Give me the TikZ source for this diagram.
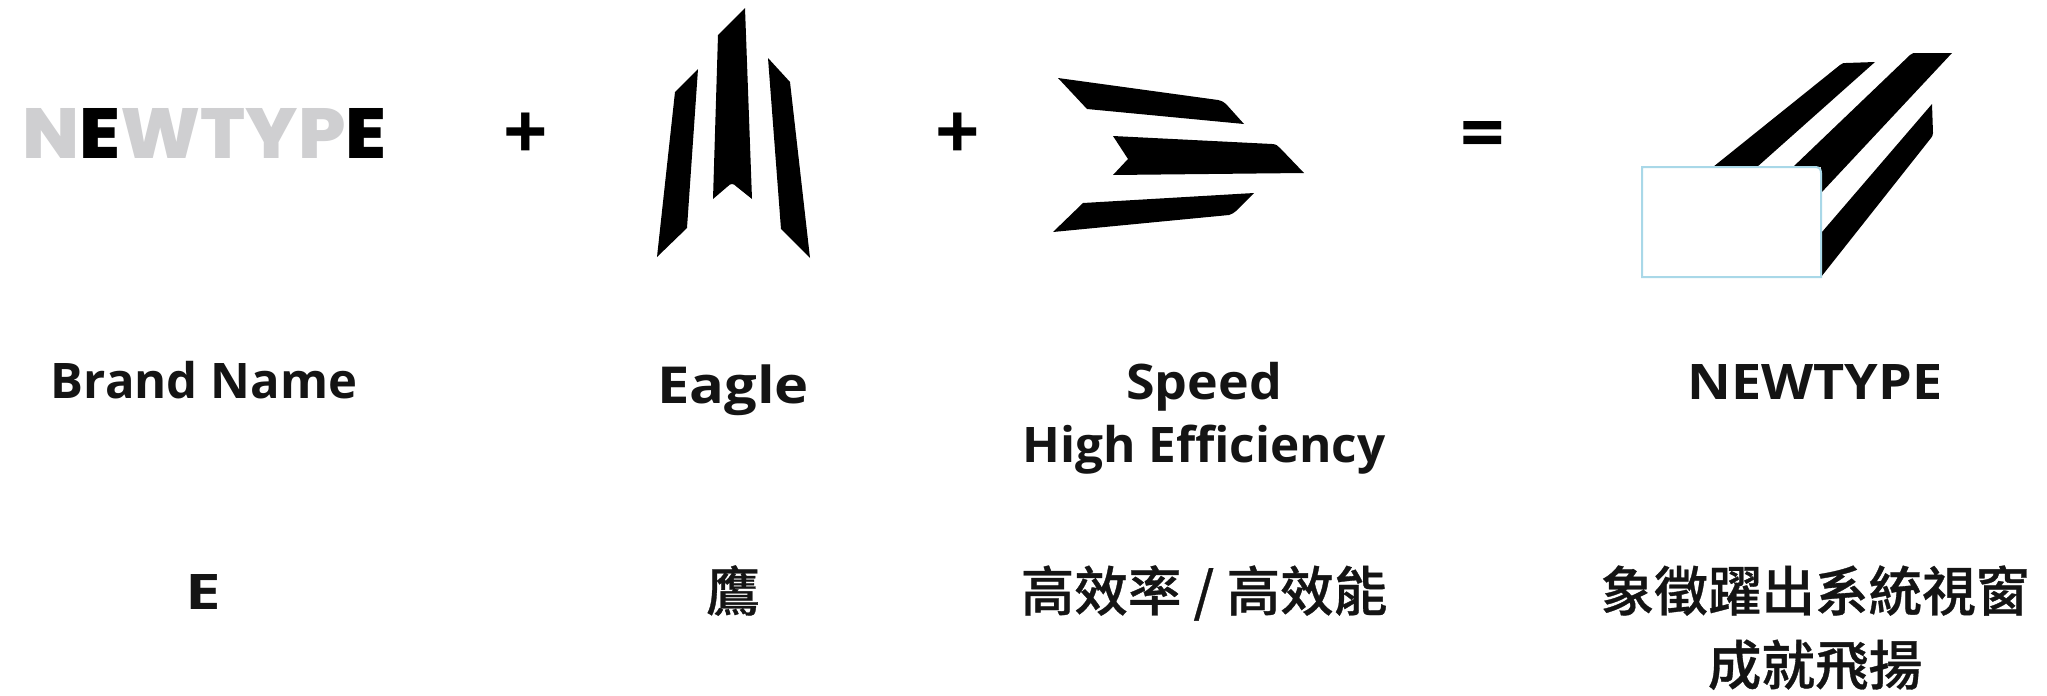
\documentclass[tikz,border=0pt]{standalone}
\usepackage{fontspec}
\setmainfont{Open Sans}
\newfontfamily\cjk[FakeBold=0.6]{Noto Sans CJK TC Medium}
\newfontfamily\logofont{Poppins ExtraBold}
\definecolor{logogray}{HTML}{CFCFD1}
\definecolor{boxblue}{HTML}{A9D8E8}
\tikzset{
  label/.style={anchor=base,inner sep=0pt,font=\fontsize{24.5}{24.5}\selectfont\bfseries,text=black!92},
  cjklabel/.style={anchor=base,inner sep=0pt,font=\fontsize{26.8}{26.8}\selectfont\cjk,text=black!92},
  sign/.style={anchor=base,inner sep=0pt,font=\fontsize{39}{39}\selectfont\bfseries,text=black},
  blade/.style={fill=black,draw=none}
}
\begin{document}
\begin{tikzpicture}[x=0.5pt,y=-0.5pt]
\useasboundingbox (0,0) rectangle (2047,696);
\fill[white] (0,0) rectangle (2047,696);
% wordmark
\node[inner sep=0pt,anchor=base west] (logo) at (22,158) {\resizebox{182pt}{25pt}{\logofont
  \textcolor{logogray}{N}\textcolor{black}{E}\textcolor{logogray}{WTYP}\textcolor{black}{E}}};
% signs
\node[sign] (plusa) at (526,159) {+};
\node[sign] (plusb) at (958,159) {+};
\node[sign] (eq) at (1483,160) {=};
% eagle
\fill[blade] (745,8) -- (718,35) -- (713,199) -- (727,187) .. controls (731,183) and (733,183) .. (737,187) -- (752,199) -- cycle;
\fill[blade] (698,69) -- (675,92) -- (657,257) -- (687,228) -- cycle;
\fill[blade] (768,58) -- (790,82) -- (810,258) -- (781,229) -- cycle;
% speed
\fill[blade] (1058,78) -- (1218,100) .. controls (1222,101) and (1224,102) .. (1226,104) -- (1244,124) -- (1087,109) -- cycle;
\fill[blade] (1113,136) -- (1272,144) .. controls (1276,144) and (1278,146) .. (1280,148) -- (1304,173) -- (1113,175) -- (1128,159) -- cycle;
\fill[blade] (1254,193) -- (1236,211) .. controls (1234,213) and (1232,214) .. (1229,215) -- (1053,232) -- (1083,203) -- cycle;
% final mark
\fill[blade] (1713,167) -- (1840,65) .. controls (1842,63) and (1844,63) .. (1846,63) -- (1875,62) -- (1757,167) -- cycle;
\fill[blade] (1793,167) -- (1910,55) .. controls (1912,53) and (1914,53) .. (1916,53) -- (1952,53) -- (1821,193) -- (1821,167) -- cycle;
\fill[blade] (1822,232) -- (1932,104) -- (1933,133) .. controls (1933,135) and (1932,137) .. (1931,138) -- (1821,277) -- cycle;
\draw[boxblue,line width=1pt,fill=white] (1642,167) -- (1815,167) .. controls (1819,167) and (1821,169) .. (1821,173) -- (1821,277) -- (1642,277) -- cycle;
% labels
\node[label] (brand) at (204,398) {Brand Name};
\node[label] (eagle) at (733,403) {\scalebox{1.18}[1.04]{Eagle}};
\node[label] (speed) at (1204,399) {\scalebox{1.06}[1]{Speed}};
\node[label] (high) at (1204,462) {\scalebox{1.01}[1]{High Efficiency}};
\node[label] (ntype) at (1815,399) {\scalebox{1.1}[1]{NEWTYPE}};
\node[label] (e) at (203,609) {\scalebox{1.3}[1]{E}};
\node[cjklabel] (ying) at (733,611) {鷹};
\node[cjklabel] (gxl) at (1204,611) {高效率 / 高效能};
\node[cjklabel] (xz) at (1815,611) {象徵躍出系統視窗};
\node[cjklabel] (cj) at (1815,685) {成就飛揚};
\end{tikzpicture}
\end{document}
